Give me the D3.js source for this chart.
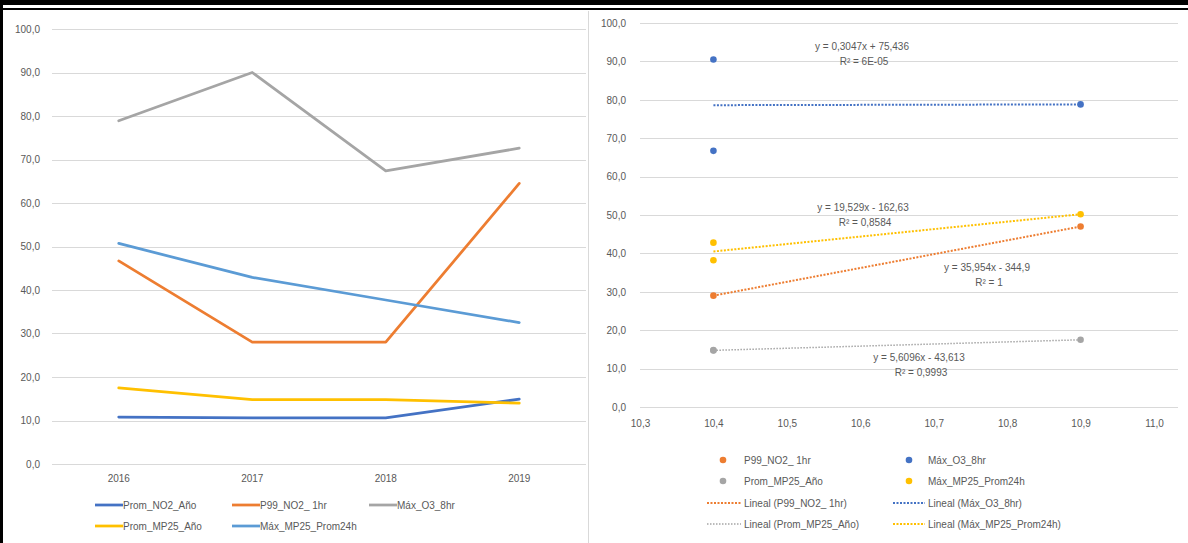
<!DOCTYPE html>
<html><head><meta charset="utf-8">
<script src="https://cdn.jsdelivr.net/npm/d3@7"></script>
<style>
body{margin:0;background:#fff}
svg{display:block}
text{font-family:"Liberation Sans",Arial,sans-serif;fill:#595959;font-size:10px}
</style>
</head><body>
<svg id="c" width="1188" height="543"></svg>
<script>
// ---------- LEFT CHART DATA ----------
const years = ["2016", "2017", "2018", "2019"];
const promNO2Ano = [10.8, 10.6, 10.6, 14.9];
const p99NO21hr = [46.7, 28.0, 28.0, 64.5];
const maxO38hr = [78.9, 90.0, 67.4, 72.6];
const promMP25Ano = [17.5, 14.8, 14.8, 14.0];
const maxMP25Prom24h = [50.7, 42.9, 37.7, 32.5];
const leftNames = ["Prom_NO2_Año", "P99_NO2_ 1hr", "Máx_O3_8hr", "Prom_MP25_Año", "Máx_MP25_Prom24h"];
const yTicks = [0, 10, 20, 30, 40, 50, 60, 70, 80, 90, 100];

// ---------- RIGHT CHART DATA ----------
const xTicksRight = [10.3, 10.4, 10.5, 10.6, 10.7, 10.8, 10.9, 11.0];
const p99X = [10.4, 10.9];
const p99Y = [29.0, 47.0];
const o3X = [10.4, 10.4, 10.9];
const o3Y = [90.5, 66.7, 78.8];
const mp25AnoX = [10.4, 10.4, 10.9];
const mp25AnoY = [14.7, 14.8, 17.5];
const mp25MaxX = [10.4, 10.4, 10.9];
const mp25MaxY = [42.8, 38.2, 50.2];
const rightNames = ["P99_NO2_ 1hr", "Máx_O3_8hr", "Prom_MP25_Año", "Máx_MP25_Prom24h"];
const eqTexts = ["y = 35,954x - 344,9", "y = 0,3047x + 75,436", "y = 5,6096x - 43,613", "y = 19,529x - 162,63"];
const r2Texts = ["R² = 1", "R² = 6E-05", "R² = 0,9993", "R² = 0,8584"];

// ---------- STYLE ----------
const colors = {blue:"#4472C4", orange:"#ED7D31", gray:"#A5A5A5", yellow:"#FFC000", light:"#5B9BD5"};
const grid = "#D9D9D9";
const loc = d3.formatLocale({decimal:",", thousands:".", grouping:[3], currency:["","€"]});
const f1 = loc.format(".1f");

const svg = d3.select("#c");

// frame
svg.append("rect").attr("x",0).attr("y",0).attr("width",1188).attr("height",5).attr("fill","#000");
svg.append("rect").attr("x",0).attr("y",8).attr("width",1188).attr("height",2).attr("fill","#000");
svg.append("rect").attr("x",0).attr("y",0).attr("width",3).attr("height",543).attr("fill","#000");
svg.append("line").attr("x1",588.5).attr("x2",588.5).attr("y1",11).attr("y2",543).attr("stroke",grid);

// ---------- LEFT CHART ----------
const L = {x0:52, x1:586, y0:464, y1:29};
const xL = d3.scaleBand().domain(years).range([L.x0, L.x1]);
const yL = d3.scaleLinear().domain([0,100]).range([L.y0, L.y1]);
const gL = svg.append("g");
gL.selectAll("line.grid").data(yTicks).join("line")
  .attr("x1",L.x0).attr("x2",L.x1)
  .attr("y1",d=>Math.round(yL(d))+0.5).attr("y2",d=>Math.round(yL(d))+0.5)
  .attr("stroke",grid).attr("stroke-width",1);
const yAxL = gL.append("g").attr("transform",`translate(${L.x0-12},0)`)
  .call(d3.axisLeft(yL).tickValues(yTicks).tickFormat(f1).tickSize(0).tickPadding(0));
yAxL.select(".domain").remove();
yAxL.selectAll("text").attr("fill","#595959").style("font-size","10px").style("font-family","Liberation Sans, Arial, sans-serif");
const xAxL = gL.append("g").attr("transform",`translate(0,${L.y0+15})`)
  .call(d3.axisBottom(xL).tickSize(0).tickPadding(0));
xAxL.select(".domain").remove();
xAxL.selectAll("text").attr("fill","#595959").style("font-size","10px").style("font-family","Liberation Sans, Arial, sans-serif");

const leftSeries = [
  {name:leftNames[0], vals:promNO2Ano, c:colors.blue},
  {name:leftNames[1], vals:p99NO21hr, c:colors.orange},
  {name:leftNames[2], vals:maxO38hr, c:colors.gray},
  {name:leftNames[3], vals:promMP25Ano, c:colors.yellow},
  {name:leftNames[4], vals:maxMP25Prom24h, c:colors.light}
];
const lineL = d3.line().x((d,i)=>xL(years[i])+xL.bandwidth()/2).y(d=>yL(d));
gL.selectAll("path.s").data(leftSeries).join("path")
  .attr("d",d=>lineL(d.vals)).attr("fill","none").attr("stroke",d=>d.c)
  .attr("stroke-width",2.75).attr("stroke-linejoin","round").attr("stroke-linecap","round");

// left legend
const legLPos = [[95,505],[232,505],[369,505],[95,526],[232,526]];
leftSeries.forEach((s,i)=>{
  const [lx,ly] = legLPos[i];
  gL.append("line").attr("x1",lx).attr("x2",lx+28).attr("y1",ly).attr("y2",ly)
    .attr("stroke",s.c).attr("stroke-width",2.75);
  gL.append("text").attr("x",lx+28).attr("y",ly+3.5).text(s.name);
});

// ---------- RIGHT CHART ----------
const R = {x0:640, x1:1154, xg:1178, y0:407, y1:23};
const xR = d3.scaleLinear().domain([10.3,11.0]).range([R.x0,R.x1]);
const yR = d3.scaleLinear().domain([0,100]).range([R.y0,R.y1]);
const gR = svg.append("g");
gR.selectAll("line.grid").data(yTicks).join("line")
  .attr("x1",R.x0).attr("x2",R.xg)
  .attr("y1",d=>Math.round(yR(d))+0.5).attr("y2",d=>Math.round(yR(d))+0.5)
  .attr("stroke",grid).attr("stroke-width",1);
const yAxR = gR.append("g").attr("transform",`translate(${R.x0-14},0)`)
  .call(d3.axisLeft(yR).tickValues(yTicks).tickFormat(f1).tickSize(0).tickPadding(0));
yAxR.select(".domain").remove();
yAxR.selectAll("text").attr("fill","#595959").style("font-size","10px").style("font-family","Liberation Sans, Arial, sans-serif");
const xAxR = gR.append("g").attr("transform",`translate(0,${R.y0+17})`)
  .call(d3.axisBottom(xR).tickValues(xTicksRight).tickFormat(f1).tickSize(0).tickPadding(0));
xAxR.select(".domain").remove();
xAxR.selectAll("text").attr("fill","#595959").style("font-size","10px").style("font-family","Liberation Sans, Arial, sans-serif");
xAxR.selectAll("text").attr("dy","0.32em");
xAxL.selectAll("text").attr("dy","0.32em");

const rightSeries = [
  {name:rightNames[0], xs:p99X, ys:p99Y, c:colors.orange, eq:eqTexts[0], r2:r2Texts[0], ep:[987,267]},
  {name:rightNames[1], xs:o3X, ys:o3Y, c:colors.blue, eq:eqTexts[1], r2:r2Texts[1], ep:[862,46]},
  {name:rightNames[2], xs:mp25AnoX, ys:mp25AnoY, c:colors.gray, eq:eqTexts[2], r2:r2Texts[2], ep:[919,357]},
  {name:rightNames[3], xs:mp25MaxX, ys:mp25MaxY, c:colors.yellow, eq:eqTexts[3], r2:r2Texts[3], ep:[863,207]}
];
function fit(xs,ys){
  const n=xs.length, mx=d3.mean(xs), my=d3.mean(ys);
  let sxy=0,sxx=0; for(let i=0;i<n;i++){sxy+=(xs[i]-mx)*(ys[i]-my);sxx+=(xs[i]-mx)**2;}
  const b=sxy/sxx; return {b, a:my-b*mx};
}
rightSeries.forEach(s=>{
  const {a,b} = fit(s.xs,s.ys);
  const xmin=d3.min(s.xs), xmax=d3.max(s.xs);
  gR.append("line").attr("x1",xR(xmin)).attr("x2",xR(xmax))
    .attr("y1",yR(a+b*xmin)).attr("y2",yR(a+b*xmax))
    .attr("stroke",s.c).attr("stroke-width",s.c===colors.gray?1.5:2)
    .attr("stroke-dasharray",s.c===colors.gray?"1.5,1.5":"2,1.5");
});
rightSeries.forEach(s=>{
  gR.selectAll(null).data(s.xs).join("circle")
    .attr("cx",d=>xR(d)).attr("cy",(d,i)=>yR(s.ys[i])).attr("r",3.3).attr("fill",s.c);
});
rightSeries.forEach(s=>{
  gR.append("text").attr("x",s.ep[0]).attr("y",s.ep[1]+3.5).attr("text-anchor","middle").text(s.eq);
  gR.append("text").attr("x",s.ep[0]+2).attr("y",s.ep[1]+18.5).attr("text-anchor","middle").text(s.r2);
});

// right legend
const legCols = [[723,707,744],[909,893,928]];
const legRows = [460,481,503,524];
const legOrder = [[0,1],[2,3]];
legOrder.forEach((pair,r)=>{
  pair.forEach((si,c)=>{
    const s = rightSeries[si], col = legCols[c];
    gR.append("circle").attr("cx",col[0]).attr("cy",legRows[r]).attr("r",3.3).attr("fill",s.c);
    gR.append("text").attr("x",col[2]).attr("y",legRows[r]+3.5).text(s.name);
    gR.append("line").attr("x1",col[1]).attr("x2",col[2]-3).attr("y1",legRows[r+2]).attr("y2",legRows[r+2])
      .attr("stroke",s.c).attr("stroke-width",s.c===colors.gray?1.5:2)
      .attr("stroke-dasharray",s.c===colors.gray?"1.5,1.5":"2,1.5");
    gR.append("text").attr("x",col[2]).attr("y",legRows[r+2]+3.5).text(`Lineal (${s.name})`);
  });
});
</script>
</body></html>
